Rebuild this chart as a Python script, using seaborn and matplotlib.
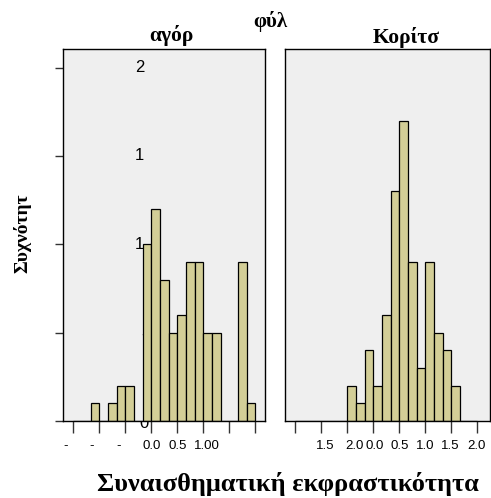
import numpy as np
import matplotlib
matplotlib.use("Agg")
import matplotlib.pyplot as plt
import seaborn as sns

# ---------------- data ----------------
# bins of width 1/6 starting at -2.0
bin_edges = [-2.0 + k / 6 for k in range(22)]
bin_mid = [(a + b) / 2 for a, b in zip(bin_edges[:-1], bin_edges[1:])]

boys_counts = [0, 0, 1, 0, 1, 2, 2, 0, 10, 12, 8, 5, 6, 9, 9, 5, 5, 0, 0, 9, 1]
girls_counts = [0, 0, 0, 0, 0, 0, 2, 1, 4, 2, 6, 13, 17, 9, 3, 9, 5, 4, 2, 0, 0]

panel_titles = ["αγόρ", "Κορίτσ"]
x_ticks = [-2.0, -1.5, -1.0, -0.5, 0.0, 0.5, 1.0, 1.5]
y_ticks = [0, 5, 10, 15, 20]
y_tick_text = ["0", "5", "1", "1", "2"]
left_tick_text = ["-", "-", "-", "0.0", "0.5", "1.00"]
right_tick_text = ["1.5", "2.0", "0.0", "0.5", "1.0", "1.5", "2.0"]

bar_color = "#d3ce97"
bg_color = "#efefef"

W, H = 491, 498
fig = plt.figure(figsize=(W / 100, H / 100), dpi=100)


def fx(px):
    return px / W


def fy(py):
    return 1 - py / H


ax1 = fig.add_axes([fx(63.3), fy(421), fx(265) - fx(63.3), fy(49) - fy(421)])
ax2 = fig.add_axes([fx(285), fy(421), fx(490) - fx(285), fy(49) - fy(421)])

for ax, counts, xl in [(ax1, boys_counts, (-2.192, 1.687)),
                       (ax2, girls_counts, (-2.198, 1.744))]:
    sns.histplot(x=bin_mid, weights=counts, bins=bin_edges, ax=ax,
                 color=bar_color, alpha=1, edgecolor="black", linewidth=0.9)
    ax.set_facecolor(bg_color)
    ax.set_xlim(*xl)
    ax.set_ylim(0, 21.05)
    ax.set_xticks(x_ticks)
    ax.set_xticklabels([])
    ax.set_xlabel("")
    ax.set_ylabel("")
    ax.tick_params(axis="x", direction="out", length=8.6, width=1, color="#333333")
    for s in ax.spines.values():
        s.set_color("black")
        s.set_linewidth(1)

ax1.set_yticks(y_ticks)
ax1.set_yticklabels([])
ax1.tick_params(axis="y", direction="out", length=5.8, width=1, color="#333333")
ax2.set_yticks([])

# truncated y labels drawn inside the left panel, behind the bars
y_label_px = [144, 146, 139, 139, 139.5]
for v, t, px in zip(y_ticks, y_tick_text, y_label_px):
    if v == 0:
        fig.text(fx(px), fy(427.5), t, ha="center", va="baseline", fontsize=12,
                 family="Liberation Sans", zorder=-1)
    else:
        ax1.text((px - 63.3) / (265 - 63.3), v, t, transform=ax1.get_yaxis_transform(),
                 ha="center", va="center", fontsize=12, family="Liberation Sans", zorder=0.5)

# x tick labels as they appear in the picture
left_px = [65.7, 91.7, 118.3, 151.7, 177.3, 207.3]
right_px = [325, 355, 374.3, 399.3, 425, 450.7, 476.7]
for t, px in zip(left_tick_text, left_px):
    fig.text(fx(px), fy(446), t, ha="center", va="center", fontsize=9.5, family="Liberation Sans")
for t, px in zip(right_tick_text, right_px):
    fig.text(fx(px), fy(446), t, ha="center", va="center", fontsize=9.5, family="Liberation Sans")

serif = "Liberation Serif"
fig.text(fx(270), fy(22), "φύλ", ha="center", va="center", fontsize=15, fontweight="bold", family=serif)
fig.text(fx(171), fy(36), panel_titles[0], ha="center", va="center", fontsize=15.5, fontweight="bold", family=serif)
fig.text(fx(406), fy(37), panel_titles[1], ha="center", va="center", fontsize=15.5, fontweight="bold", family=serif)
fig.text(fx(22), fy(233), "Συχνότητ", ha="center", va="center", rotation=90, fontsize=14,
         fontweight="bold", family=serif)
fig.text(fx(288), fy(484), "Συναισθηματική εκφραστικότητα", ha="center", va="center", fontsize=19,
         fontweight="bold", family=serif)

fig.savefig("out.png", dpi=100)
